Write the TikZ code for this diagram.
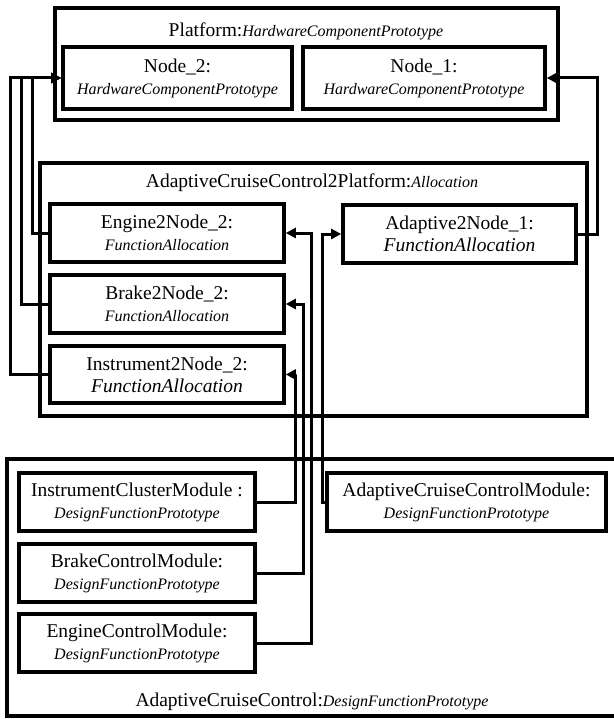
\documentclass[tikz,border=0pt]{standalone}
\usepackage{fontspec}
\setmainfont{Liberation Serif}
\usetikzlibrary{arrows.meta}
\newcommand\bigtext{\fontsize{19.5}{22}\selectfont}
\newcommand\smallit{\fontsize{16}{19}\selectfont\itshape}
\newcommand\bigit{\fontsize{19.5}{22}\selectfont\itshape}
\begin{document}
\begin{tikzpicture}[x=1pt,y=-1pt,
  frame/.style={draw, line width=3.6pt, rectangle, inner sep=0pt},
  part/.style={frame, align=center, font=\bigtext},
  title/.style={anchor=base, inner sep=0pt, font=\bigtext},
  link/.style={line width=3pt, -{Triangle[length=10pt,width=10pt]}}]
\useasboundingbox (0,0) rectangle (613,719);

% containers
\node[frame, minimum width=503pt, minimum height=112pt] (platform) at (306.5,64) {};
\node[frame, minimum width=547pt, minimum height=253pt] (alloc) at (313.5,289.5) {};
\node[frame, minimum width=618pt, minimum height=257pt] (acc) at (316,587.5) {};

\node[title] (platformtitle) at (306,37) {Platform:{\smallit HardwareComponentPrototype}};
\node[title] (alloctitle) at (312,188) {AdaptiveCruiseControl2Platform:{\smallit Allocation}};
\node[title] (acctitle) at (312,706) {AdaptiveCruiseControl:{\smallit DesignFunctionPrototype}};

% hardware nodes
\node[part, minimum width=229pt, minimum height=62pt] (node2) at (177.5,78) {Node\_2:\\\smallit HardwareComponentPrototype};
\node[part, minimum width=242pt, minimum height=62pt] (node1) at (424,78) {Node\_1:\\\smallit HardwareComponentPrototype};

% allocations
\node[part, minimum width=234pt, minimum height=58pt] (e2n2) at (167,233) {Engine2Node\_2:\\\smallit FunctionAllocation};
\node[part, minimum width=234pt, minimum height=58pt] (b2n2) at (167,304) {Brake2Node\_2:\\\smallit FunctionAllocation};
\node[part, minimum width=234pt, minimum height=57pt] (i2n2) at (167,374.5) {Instrument2Node\_2:\\\bigit FunctionAllocation};
\node[part, minimum width=233pt, minimum height=58pt] (a2n1) at (459.5,234) {Adaptive2Node\_1:\\\bigit FunctionAllocation};

% function prototypes
\node[part, minimum width=236pt, minimum height=58pt] (icm) at (137,502) {InstrumentClusterModule :\\\smallit DesignFunctionPrototype};
\node[part, minimum width=236pt, minimum height=58pt] (bcm) at (137,573) {BrakeControlModule:\\\smallit DesignFunctionPrototype};
\node[part, minimum width=236pt, minimum height=58pt] (ecm) at (137,643) {EngineControlModule:\\\smallit DesignFunctionPrototype};
\node[part, minimum width=279pt, minimum height=58pt] (acm) at (466.5,502) {AdaptiveCruiseControlModule:\\\smallit DesignFunctionPrototype};

% routing lanes
\coordinate (laneI) at (10,0);
\coordinate (laneB) at (21,0);
\coordinate (laneE) at (32,0);
\coordinate (laneR) at (597,0);
\coordinate (laneIC) at (295,0);
\coordinate (laneBC) at (303,0);
\coordinate (laneEC) at (311,0);
\coordinate (laneAC) at (322,0);

% allocation to hardware
\draw[link] (e2n2.west) -| (laneE |- node2.west) -- (node2.west);
\draw[link] (b2n2.west) -| (laneB |- node2.west) -- (node2.west);
\draw[link] (i2n2.west) -| (laneI |- node2.west) -- (node2.west);
\draw[link] (a2n1.east) -| (laneR |- node1.east) -- (node1.east);

% function to allocation
\draw[link] (icm.east) -| (laneIC |- i2n2.east) -- (i2n2.east);
\draw[link] (bcm.east) -| (laneBC |- b2n2.east) -- (b2n2.east);
\draw[link] (ecm.east) -| (laneEC |- e2n2.east) -- (e2n2.east);
\draw[link] (acm.west) -| (laneAC |- a2n1.west) -- (a2n1.west);
\end{tikzpicture}
\end{document}
